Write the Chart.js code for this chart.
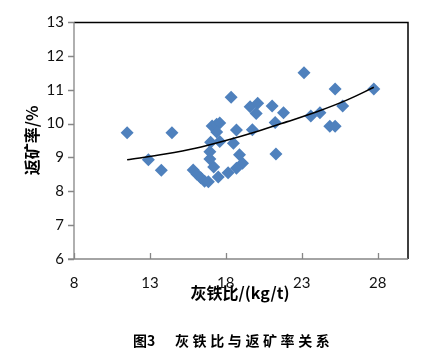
<!DOCTYPE html>
<html>
<head>
<meta charset="utf-8">
<script src="https://cdn.jsdelivr.net/npm/chart.js@4/dist/chart.umd.min.js"></script>
<style>
html,body{margin:0;padding:0;background:#fff;}
#wrap{width:436px;height:364px;position:relative;}
</style>
</head>
<body>
<div id="wrap"><canvas id="c" width="436" height="364"></canvas></div>
<script>
// Data
const ironRatio = [11.5, 12.9, 13.75, 14.45, 15.85, 16.1, 16.35, 16.6, 16.85, 17.5, 18.15, 16.95, 16.95, 17.2, 17.0, 17.6, 18.5, 17.1, 17.4, 17.6, 17.4, 18.7, 18.9, 19.1, 18.7, 18.35, 19.6, 20.1, 20.0, 19.75, 21.05, 21.8, 21.25, 21.3, 23.15, 23.6, 24.2, 24.85, 25.2, 25.2, 25.7, 27.75];
const returnRate = [9.73, 8.93, 8.62, 9.73, 8.63, 8.5, 8.4, 8.3, 8.28, 8.42, 8.55, 8.95, 9.17, 8.72, 9.45, 9.47, 9.42, 9.93, 9.98, 10.02, 9.75, 9.81, 9.08, 8.83, 8.68, 10.78, 10.5, 10.6, 10.3, 9.82, 10.52, 10.32, 10.03, 9.1, 11.5, 10.22, 10.32, 9.92, 9.92, 11.02, 10.52, 11.02];
const trendX = [11.5, 14, 16, 18, 20, 22, 24, 26, 27.75];
const trendY = [8.93, 9.1, 9.27, 9.5, 9.76, 10.05, 10.35, 10.7, 11.07];
const xTicks = [8, 13, 18, 23, 28];
const yTicks = [6, 7, 8, 9, 10, 11, 12, 13];
const xTitle = '灰铁比/(kg/t)';
const yTitle = '返矿率/%';
const caption = '灰铁比与返矿率关系';
const captionNo = '图3';

const scatterPts = ironRatio.map((x, i) => ({x: x, y: returnRate[i]}));
const trendPts = trendX.map((x, i) => ({x: x, y: trendY[i]}));

const AXIS = '#868686';
const decor = {
  id: 'decor',
  afterDraw(chart) {
    const ctx = chart.ctx, a = chart.chartArea;
    const xs = chart.scales.x, ys = chart.scales.y;
    ctx.save();
    // plot border top/right
    ctx.strokeStyle = '#000'; ctx.lineWidth = 1.5;
    ctx.beginPath();
    ctx.moveTo(a.left, a.top + 0.5); ctx.lineTo(a.right, a.top + 0.5); ctx.lineTo(a.right, a.bottom);
    ctx.stroke();
    // axes
    ctx.strokeStyle = AXIS; ctx.lineWidth = 1.3;
    ctx.beginPath();
    ctx.moveTo(a.left, a.top); ctx.lineTo(a.left, a.bottom);
    ctx.moveTo(a.left - 6, a.bottom); ctx.lineTo(a.right, a.bottom);
    yTicks.forEach(v => { const p = Math.round(ys.getPixelForValue(v)) + 0.5; ctx.moveTo(a.left - 6, p); ctx.lineTo(a.left, p); });
    xTicks.forEach(v => { const p = Math.round(xs.getPixelForValue(v)) + 0.5; ctx.moveTo(p, a.bottom); ctx.lineTo(p, a.bottom - 6); });
    ctx.stroke();
    // tick labels
    ctx.fillStyle = '#111';
    ctx.font = '15px Lato';
    ctx.textAlign = 'right'; ctx.textBaseline = 'middle';
    yTicks.forEach(v => ctx.fillText(String(v), a.left - 10, ys.getPixelForValue(v)));
    ctx.textAlign = 'center';
    xTicks.forEach(v => ctx.fillText(String(v), xs.getPixelForValue(v), a.bottom + 24));
    // axis titles
    ctx.fillStyle = '#000';
    ctx.font = 'bold 16px "Noto Sans CJK SC"';
    ctx.fillText(xTitle, (a.left + a.right) / 2 - 1, a.bottom + 34);
    ctx.save();
    ctx.translate(32, (a.top + a.bottom) / 2);
    ctx.rotate(-Math.PI / 2);
    ctx.fillText(yTitle, 0, 0);
    ctx.restore();
    // caption
    ctx.font = 'bold 14px "Noto Sans CJK SC"';
    ctx.textAlign = 'left';
    ctx.fillText(captionNo, 133, 341);
    ctx.letterSpacing = '3.6px';
    ctx.fillText(caption, 175, 341);
    ctx.restore();
  }
};

new Chart(document.getElementById('c'), {
  type: 'scatter',
  data: {
    datasets: [
      {
        data: scatterPts,
        pointStyle: 'rectRot',
        pointRadius: 6.5,
        pointHoverRadius: 6.5,
        backgroundColor: '#4F81BD',
        borderColor: '#4F81BD',
        borderWidth: 0,
        order: 2
      },
      {
        data: trendPts,
        type: 'line',
        showLine: true,
        borderColor: '#000',
        borderWidth: 1.6,
        pointRadius: 0,
        fill: false,
        cubicInterpolationMode: 'monotone',
        order: 1
      }
    ]
  },
  options: {
    responsive: false,
    animation: false,
    events: [],
    layout: {padding: {left: 0, top: 22, right: 28, bottom: 0}},
    plugins: {legend: {display: false}, tooltip: {enabled: false}},
    scales: {
      x: {
        type: 'linear', min: 8, max: 30,
        afterBuildTicks: s => { s.ticks = xTicks.map(v => ({value: v})); },
        afterFit: s => { s.height = 105; },
        grid: {display: false},
        border: {display: false},
        ticks: {display: false}
      },
      y: {
        type: 'linear', min: 6, max: 13,
        afterBuildTicks: s => { s.ticks = yTicks.map(v => ({value: v})); },
        afterFit: s => { s.width = 74; },
        grid: {display: false},
        border: {display: false},
        ticks: {display: false}
      }
    }
  },
  plugins: [decor]
});
</script>
</body>
</html>
